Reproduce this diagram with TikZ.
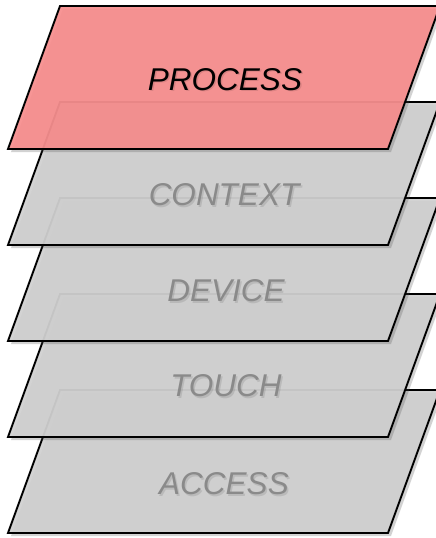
\documentclass[tikz,border=0pt]{standalone}
\usepackage{fontspec}
\setmainfont{Liberation Sans}
\usetikzlibrary{shadows}
\definecolor{layergray}{RGB}{208,208,208}
\definecolor{layerpink}{RGB}{246,142,142}
\definecolor{labelgray}{RGB}{138,138,138}
\tikzset{
  layer/.style={draw=black, line width=1.9pt, line join=miter, fill opacity=0.94,
    drop shadow={shadow xshift=3pt, shadow yshift=-3pt, opacity=0.25, fill=black!70}},
  lab/.style={font=\fontsize{31.5}{36}\selectfont\itshape, text=labelgray, inner sep=0pt},
  labshadow/.style={font=\fontsize{31.5}{36}\selectfont\itshape, text=black, text opacity=0.1, inner sep=0pt},
}
\begin{document}
\begin{tikzpicture}[x=1pt,y=-1pt]
\useasboundingbox (0,0) rectangle (436,538);
\clip (0,0) rectangle (436,538);
% ACCESS
\draw[layer, fill=layergray] (8,533) -- (388,533) -- (440,390) -- (60,390) -- cycle;
\node[labshadow] (accesssh) at (225.5,485.5) {ACCESS};
\node[lab] (access) at (224,484) {ACCESS};
% TOUCH
\draw[layer, fill=layergray] (8,437) -- (388,437) -- (440,294) -- (60,294) -- cycle;
\node[labshadow] (touchsh) at (227.5,387.5) {TOUCH};
\node[lab] (touch) at (226,386) {TOUCH};
% DEVICE
\draw[layer, fill=layergray] (8,341) -- (388,341) -- (440,198) -- (60,198) -- cycle;
\node[labshadow] (devicesh) at (227.5,292.5) {DEVICE};
\node[lab] (device) at (226,291) {DEVICE};
% CONTEXT
\draw[layer, fill=layergray] (8,245) -- (388,245) -- (440,102) -- (60,102) -- cycle;
\node[labshadow] (contextsh) at (225.5,196.5) {CONTEXT};
\node[lab] (context) at (224,195) {CONTEXT};
% PROCESS
\draw[layer, fill=layerpink] (8,149) -- (388,149) -- (440,6) -- (60,6) -- cycle;
\node[labshadow] (processsh) at (226.5,81) {PROCESS};
\node[lab, text=black] (process) at (225,79.5) {PROCESS};
\end{tikzpicture}
\end{document}
